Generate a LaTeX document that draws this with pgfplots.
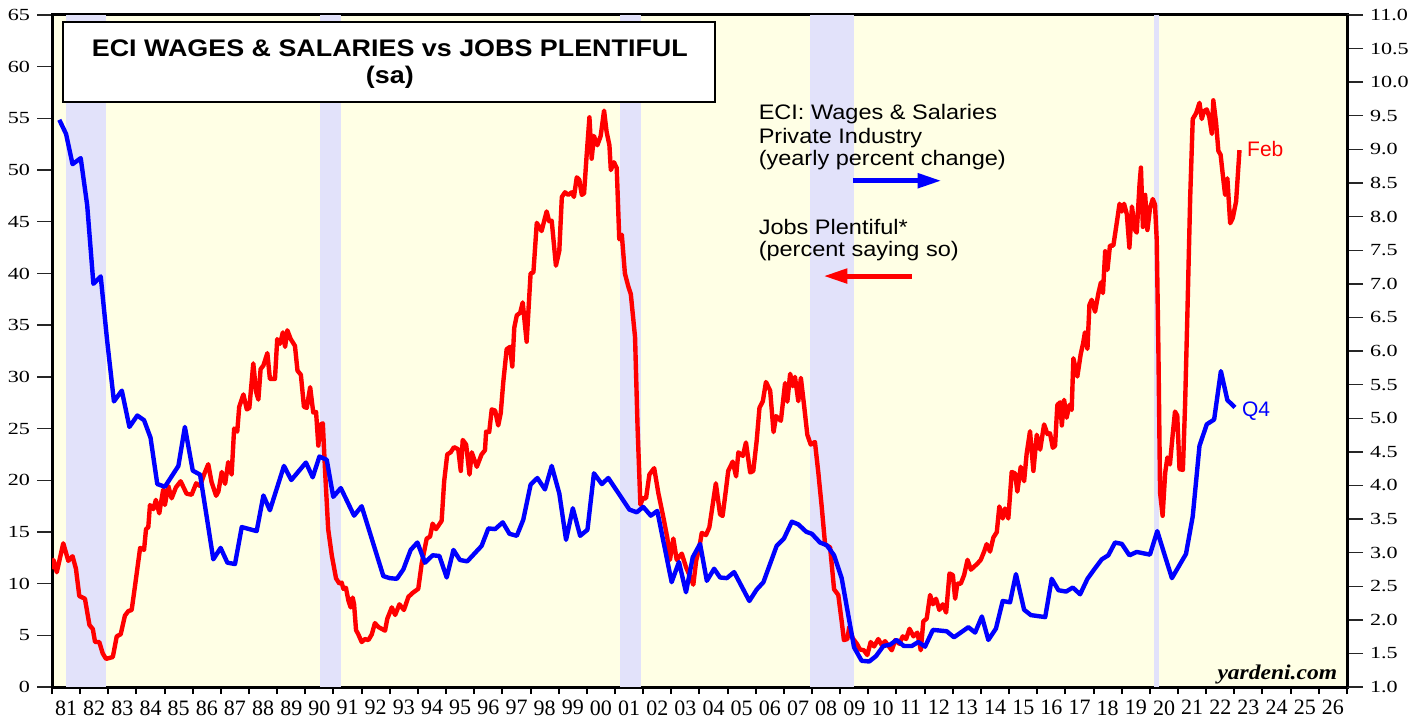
\documentclass[border=0pt]{standalone}
\usepackage{fontspec}
\setmainfont{Liberation Serif}
\newfontfamily\arialfont{Liberation Sans}
\newfontfamily\arialwide[FakeStretch=1.12]{Liberation Sans}
\newfontfamily\ytickfont[FakeStretch=1.3]{Liberation Serif}
\newfontfamily\yardfont[FakeStretch=1.12]{Liberation Serif}
\usepackage{pgfplots}
\pgfplotsset{compat=1.18}
\usetikzlibrary{calc,arrows.meta}
\definecolor{bgyellow}{HTML}{FFFFE5}
\definecolor{recess}{HTML}{E2E2FA}

\begin{document}
\begin{tikzpicture}
\begin{axis}[
  name=main, at={(0,0)}, anchor=south west,
  scale only axis, width=647.5pt, height=336pt,
  xmin=1981, xmax=2027, ymin=0, ymax=65,
  axis background/.style={fill=bgyellow},
  axis line style={line width=1.5pt},
  tick pos=left, tick align=outside,
  ytick={0,5,...,65},
  major tick length=7.5pt, minor tick length=3.5pt,
  ytick style={line width=0.7pt, black!85},
  xtick={1981.5,1982.5,...,2026.5},
  major x tick style={draw=none},
  minor xtick={1981,1982,...,2027},
  minor x tick style={line width=1pt, black},
  xticklabels={81,82,83,84,85,86,87,88,89,90,91,92,93,94,95,96,97,98,99,00,01,02,03,04,05,06,07,08,09,10,11,12,13,14,15,16,17,18,19,20,21,22,23,24,25,26},
  xticklabel style={font=\fontsize{11}{11}\selectfont, inner sep=1pt, yshift=2pt},
  yticklabel style={font=\ytickfont\fontsize{8.5}{8.5}\selectfont},
  /pgf/number format/assume math mode=true,
]
% recessions
\addplot[fill=recess, draw=none] coordinates {(1981.5,65) (1982.92,65)} \closedcycle;
\addplot[fill=recess, draw=none] coordinates {(1990.52,65) (1991.25,65)} \closedcycle;
\addplot[fill=recess, draw=none] coordinates {(2001.17,65) (2001.92,65)} \closedcycle;
\addplot[fill=recess, draw=none] coordinates {(2007.92,65) (2009.5,65)} \closedcycle;
\addplot[fill=recess, draw=none] coordinates {(2020.13,65) (2020.33,65)} \closedcycle;
% Jobs Plentiful, percent (left axis)
\addplot[red, line width=2.2pt, line join=round] coordinates {
(1981.00,11.4) (1981.05,12.3) (1981.17,11.1) (1981.40,13.9) (1981.58,12.2) (1981.73,12.65) (1981.85,11.45) (1981.97,8.8)
(1982.17,8.54) (1982.33,6.0) (1982.45,5.6) (1982.53,4.35) (1982.68,4.35) (1982.80,3.26) (1982.92,2.72) (1983.16,2.9)
(1983.30,4.9) (1983.44,5.1) (1983.59,6.9) (1983.71,7.34) (1983.83,7.45) (1983.95,9.8) (1984.13,13.45) (1984.27,13.27)
(1984.34,15.27) (1984.42,15.45) (1984.48,17.6) (1984.60,17.2) (1984.69,18.1) (1984.81,16.8) (1984.95,19.1) (1985.01,17.6)
(1985.13,19.45) (1985.25,18.25) (1985.40,19.3) (1985.57,19.9) (1985.78,18.7) (1985.96,18.6) (1986.12,19.7) (1986.26,19.45)
(1986.40,20.55) (1986.55,21.55) (1986.67,19.8) (1986.83,18.5) (1986.91,18.9) (1987.03,20.8) (1987.15,19.65) (1987.26,21.75)
(1987.38,20.55) (1987.47,25.0) (1987.58,24.7) (1987.65,27.1) (1987.80,28.3) (1987.92,26.85) (1988.01,27.0) (1988.15,31.3)
(1988.25,28.55) (1988.33,27.8) (1988.41,30.75) (1988.51,31.1) (1988.65,32.3) (1988.74,29.8) (1988.92,29.8) (1989.00,33.65)
(1989.10,33.2) (1989.20,34.3) (1989.28,32.9) (1989.36,34.5) (1989.48,33.65) (1989.63,33.0) (1989.72,30.6) (1989.84,30.2)
(1989.95,27.1) (1990.05,27.0) (1990.17,29.0) (1990.28,26.55) (1990.38,26.6) (1990.46,23.35) (1990.54,25.4) (1990.62,25.5)
(1990.70,20.9) (1990.81,15.27) (1990.94,12.7) (1991.09,10.5) (1991.21,10.0) (1991.29,10.1) (1991.35,9.5) (1991.44,9.6)
(1991.53,8.35) (1991.61,7.7) (1991.68,8.65) (1991.73,8.0) (1991.80,5.5) (1991.88,5.1) (1992.00,4.35) (1992.12,4.64)
(1992.24,4.54) (1992.36,5.1) (1992.47,6.18) (1992.59,5.81) (1992.71,5.63) (1992.83,5.45) (1992.91,6.6) (1993.07,7.7)
(1993.19,6.97) (1993.34,8.0) (1993.50,7.45) (1993.66,8.72) (1993.81,9.1) (1994.01,9.5) (1994.13,11.9) (1994.31,14.36)
(1994.43,14.55) (1994.52,15.8) (1994.64,15.27) (1994.84,16.07) (1994.93,19.9) (1995.04,22.5) (1995.16,22.7) (1995.28,23.2)
(1995.43,23.0) (1995.52,20.9) (1995.59,23.9) (1995.71,23.45) (1995.83,20.55) (1995.91,22.7) (1996.09,21.3) (1996.26,22.5)
(1996.38,22.9) (1996.42,24.7) (1996.53,24.66) (1996.62,26.85) (1996.74,26.74) (1996.85,25.3) (1996.94,26.5) (1997.03,29.5)
(1997.15,32.67) (1997.27,32.9) (1997.35,31.0) (1997.42,34.75) (1997.51,35.95) (1997.63,36.2) (1997.72,37.2) (1997.86,33.4)
(1998.00,40.0) (1998.10,40.1) (1998.22,44.9) (1998.39,44.1) (1998.57,46.0) (1998.66,45.05) (1998.75,45.1) (1998.90,40.75)
(1999.02,42.2) (1999.11,47.4) (1999.22,47.85) (1999.34,47.6) (1999.46,47.85) (1999.54,47.4) (1999.64,49.3) (1999.73,49.05)
(1999.82,47.6) (1999.90,47.75) (1999.99,51.4) (2000.09,55.1) (2000.17,51.1) (2000.25,53.3) (2000.37,52.4) (2000.49,53.3)
(2000.61,55.75) (2000.70,53.7) (2000.80,52.4) (2000.85,50.0) (2000.96,50.76) (2001.06,50.2) (2001.15,43.3) (2001.24,43.75)
(2001.35,40.0) (2001.47,38.75) (2001.56,38.0) (2001.71,33.85) (2001.80,25.1) (2001.90,17.64) (2001.99,18.25) (2002.10,18.25)
(2002.22,20.55) (2002.39,21.17) (2002.54,18.73) (2002.72,16.36) (2002.86,14.36) (2002.95,12.3) (2003.07,14.36) (2003.19,12.3)
(2003.37,12.9) (2003.52,11.6) (2003.66,10.7) (2003.78,9.9) (2003.88,12.2) (2003.99,13.45) (2004.08,14.9) (2004.23,14.7)
(2004.35,15.45) (2004.58,19.7) (2004.73,16.7) (2004.82,16.55) (2004.94,19.1) (2005.02,20.9) (2005.18,21.8) (2005.30,20.37)
(2005.38,22.7) (2005.54,22.35) (2005.65,23.65) (2005.80,20.75) (2005.91,20.9) (2006.03,23.8) (2006.13,27.0) (2006.25,27.65)
(2006.36,29.5) (2006.51,28.67) (2006.63,24.66) (2006.72,26.2) (2006.89,25.75) (2007.04,29.4) (2007.12,27.6) (2007.22,30.3)
(2007.31,29.1) (2007.39,30.0) (2007.51,27.65) (2007.60,29.9) (2007.71,27.35) (2007.83,24.4) (2007.95,23.45) (2008.10,23.7)
(2008.22,20.75) (2008.34,17.46) (2008.46,13.8) (2008.64,13.5) (2008.78,9.45) (2008.93,8.9) (2009.05,6.35) (2009.13,4.54)
(2009.25,4.64) (2009.32,5.81) (2009.44,4.72) (2009.59,4.18) (2009.70,3.63) (2009.84,3.55) (2009.96,3.09) (2010.08,4.35)
(2010.20,3.92) (2010.35,4.64) (2010.47,4.06) (2010.59,4.43) (2010.71,3.99) (2010.83,3.55) (2010.95,4.54) (2011.10,4.18)
(2011.22,4.9) (2011.34,4.64) (2011.46,5.63) (2011.60,4.9) (2011.74,5.26) (2011.86,3.55) (2011.95,6.35) (2012.07,6.61)
(2012.19,8.9) (2012.29,8.0) (2012.40,8.54) (2012.52,7.45) (2012.64,8.0) (2012.76,7.2) (2012.88,10.98) (2013.00,10.83)
(2013.08,8.54) (2013.16,10.0) (2013.28,10.0) (2013.40,10.83) (2013.52,12.3) (2013.64,11.35) (2013.75,11.63) (2013.87,11.93)
(2013.99,12.3) (2014.11,13.1) (2014.20,13.82) (2014.32,13.1) (2014.44,14.47) (2014.56,14.98) (2014.65,17.46) (2014.77,16.3)
(2014.85,17.27) (2014.97,16.3) (2015.09,20.8) (2015.21,20.66) (2015.29,18.9) (2015.41,21.3) (2015.53,19.9) (2015.62,22.55)
(2015.74,24.74) (2015.86,20.9) (2015.98,24.4) (2016.10,22.96) (2016.24,25.4) (2016.36,24.46) (2016.45,24.54) (2016.55,23.14)
(2016.63,23.33) (2016.71,27.28) (2016.81,27.54) (2016.87,25.3) (2016.95,27.78) (2017.04,26.05) (2017.14,27.28) (2017.22,26.8)
(2017.28,31.8) (2017.42,30.03) (2017.54,32.18) (2017.63,33.3) (2017.69,34.3) (2017.78,32.7) (2017.85,36.95) (2017.93,37.45)
(2018.05,36.3) (2018.17,38.1) (2018.26,39.14) (2018.33,38.1) (2018.41,42.15) (2018.49,40.34) (2018.58,42.7) (2018.70,42.7)
(2018.80,44.5) (2018.92,46.74) (2019.00,45.99) (2019.08,46.74) (2019.18,45.72) (2019.27,42.5) (2019.36,46.47) (2019.47,44.2)
(2019.53,43.95) (2019.63,48.6) (2019.68,50.24) (2019.75,44.5) (2019.83,47.6) (2019.91,44.2) (2020.00,46.28) (2020.10,47.2)
(2020.18,46.66) (2020.24,43.3) (2020.30,32.7) (2020.36,18.8) (2020.45,16.56) (2020.54,20.7) (2020.62,22.2) (2020.71,21.53)
(2020.81,24.46) (2020.89,26.64) (2020.97,26.26) (2021.05,21.07) (2021.17,21.0) (2021.25,27.46) (2021.33,36.1) (2021.43,47.42)
(2021.52,54.94) (2021.64,55.5) (2021.76,56.5) (2021.84,54.94) (2021.92,55.7) (2022.02,55.87) (2022.11,55.1) (2022.20,53.5)
(2022.25,56.75) (2022.35,54.56) (2022.43,51.86) (2022.51,51.48) (2022.61,49.0) (2022.67,47.6) (2022.75,49.2) (2022.85,44.86)
(2022.94,45.35) (2023.06,46.96) (2023.18,51.93)
};
% title box
\draw[fill=white, line width=1pt] (axis cs:1981.39,64.31) rectangle (axis cs:2004.55,56.58);
\node[anchor=base, inner sep=0pt, font=\arialwide\bfseries\fontsize{12}{12}\selectfont] at (axis cs:1993.0,60.96) {ECI WAGES \& SALARIES vs JOBS PLENTIFUL};
\node[anchor=base, inner sep=0pt, font=\arialwide\bfseries\fontsize{12}{12}\selectfont] at (axis cs:1993.0,58.38) {(sa)};
% annotations
\begin{scope}[every node/.style={anchor=base west, inner sep=0pt, font=\arialwide\fontsize{10.5}{10.5}\selectfont}]
\node at (axis cs:2006.09,54.9) {ECI: Wages \& Salaries};
\node at (axis cs:2006.09,52.6) {Private Industry};
\node at (axis cs:2006.09,50.4) {(yearly percent change)};
\node at (axis cs:2006.09,43.78) {Jobs Plentiful*};
\node at (axis cs:2006.09,41.6) {(percent saying so)};
\end{scope}
\draw[blue, line width=2.5pt, -{Triangle[length=12pt,width=7pt]}] (axis cs:2009.45,48.97) -- (axis cs:2012.6,48.97);
\draw[red, line width=2.5pt, -{Triangle[length=12pt,width=7pt]}] (axis cs:2011.55,39.75) -- (axis cs:2008.4,39.75);
\node[anchor=base west, inner sep=0pt, red, font=\arialfont\fontsize{10.5}{10.5}\selectfont] at (axis cs:2023.44,51.29) {Feb};
\node[anchor=base west, inner sep=0pt, blue, font=\arialfont\fontsize{10.5}{10.5}\selectfont] at (axis cs:2023.26,26.14) {Q4};
\node[anchor=base east, inner sep=0pt, font=\yardfont\bfseries\itshape\fontsize{10.5}{10.5}\selectfont] at (axis cs:2026.66,0.74) {yardeni.com};
\end{axis}
\begin{axis}[
  at={(main.south west)}, anchor=south west,
  scale only axis, width=647.5pt, height=336pt,
  xmin=1981, xmax=2027, ymin=1, ymax=11,
  axis x line=none, axis y line*=right,
  axis line style={line width=1.5pt},
  tick align=outside, major tick length=8pt,
  ytick={1,1.5,2,2.5,3,3.5,4,4.5,5,5.5,6,6.5,7,7.5,8,8.5,9,9.5,10,10.5,11},
  yticklabels={1.0,1.5,2.0,2.5,3.0,3.5,4.0,4.5,5.0,5.5,6.0,6.5,7.0,7.5,8.0,8.5,9.0,9.5,10.0,10.5,11.0},
  ytick style={line width=0.7pt, black!85},
  yticklabel style={font=\ytickfont\fontsize{8.5}{8.5}\selectfont},
]
% ECI wages & salaries, yearly percent change (right axis)
\addplot[blue, line width=2.2pt, line join=round] coordinates {
(1981.26,9.44) (1981.50,9.23) (1981.73,8.78) (1982.02,8.87) (1982.25,8.17) (1982.47,7.00) (1982.73,7.11) (1982.96,6.15)
(1983.20,5.25) (1983.48,5.41) (1983.75,4.87) (1984.03,5.04) (1984.27,4.97) (1984.50,4.71) (1984.74,4.02) (1985.01,3.98)
(1985.49,4.29) (1985.72,4.87) (1986.00,4.22) (1986.26,4.16) (1986.50,3.52) (1986.73,2.90) (1986.99,3.07) (1987.23,2.85)
(1987.50,2.83) (1987.74,3.38) (1988.27,3.32) (1988.51,3.85) (1988.74,3.63) (1989.24,4.29) (1989.50,4.08) (1990.02,4.34)
(1990.26,4.12) (1990.50,4.43) (1990.76,4.38) (1990.99,3.83) (1991.26,3.96) (1991.73,3.55) (1992.00,3.69) (1992.77,2.65)
(1993.00,2.62) (1993.25,2.61) (1993.48,2.75) (1993.74,3.04) (1993.98,3.15) (1994.25,2.85) (1994.52,2.96) (1994.76,2.95)
(1995.02,2.63) (1995.26,3.04) (1995.49,2.89) (1995.75,2.87) (1996.26,3.10) (1996.50,3.36) (1996.74,3.35) (1997.01,3.45)
(1997.25,3.28) (1997.51,3.25) (1997.74,3.49) (1998.00,4.01) (1998.24,4.11) (1998.51,3.94) (1998.75,4.29) (1999.02,3.88)
(1999.26,3.19) (1999.50,3.66) (1999.76,3.25) (2000.02,3.34) (2000.25,4.18) (2000.53,4.02) (2000.76,4.11) (2001.51,3.64)
(2001.77,3.60) (2002.00,3.68) (2002.27,3.55) (2002.50,3.62) (2003.01,2.56) (2003.27,2.86) (2003.52,2.41) (2003.76,2.93)
(2004.02,3.13) (2004.26,2.58) (2004.52,2.76) (2004.73,2.63) (2004.97,2.62) (2005.23,2.71) (2005.77,2.28) (2006.03,2.45)
(2006.27,2.56) (2006.74,3.10) (2007.00,3.21) (2007.28,3.46) (2007.51,3.42) (2007.79,3.31) (2007.99,3.28) (2008.28,3.15)
(2008.52,3.11) (2008.78,2.96) (2009.05,2.62) (2009.25,2.15) (2009.49,1.59) (2009.76,1.39) (2010.03,1.38) (2010.27,1.46)
(2010.53,1.61) (2010.77,1.63) (2011.00,1.70) (2011.26,1.61) (2011.54,1.61) (2011.77,1.67) (2012.01,1.60) (2012.29,1.85)
(2012.78,1.83) (2013.04,1.74) (2013.55,1.89) (2013.79,1.81) (2014.03,2.05) (2014.26,1.70) (2014.53,1.87) (2014.77,2.28)
(2015.03,2.26) (2015.24,2.68) (2015.53,2.15) (2015.77,2.07) (2016.28,2.04) (2016.51,2.61) (2016.75,2.44) (2017.02,2.42)
(2017.26,2.48) (2017.52,2.38) (2017.78,2.61) (2018.02,2.75) (2018.29,2.90) (2018.52,2.96) (2018.76,3.15) (2019.00,3.13)
(2019.27,2.96) (2019.53,3.01) (2020.00,2.97) (2020.26,3.32) (2020.54,2.94) (2020.78,2.62) (2021.28,2.98) (2021.52,3.54)
(2021.76,4.59) (2022.02,4.91) (2022.28,4.98) (2022.52,5.70) (2022.75,5.27) (2023.02,5.16)
};
\end{axis}
\pgfresetboundingbox
\path[use as bounding box] ($(main.south west)+(-26pt,-16pt)$) rectangle ($(main.north east)+(38pt,7.5pt)$);
\end{tikzpicture}
\end{document}
